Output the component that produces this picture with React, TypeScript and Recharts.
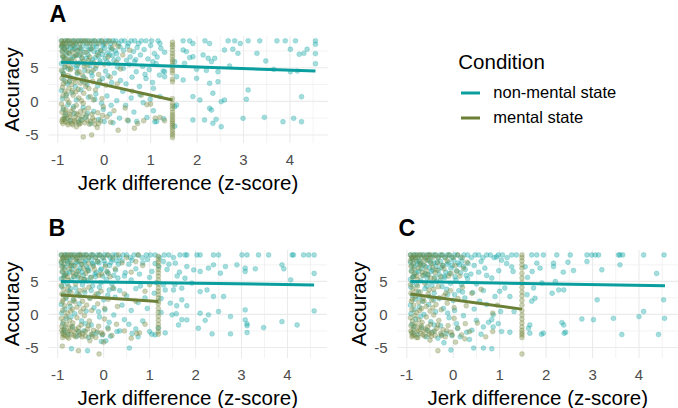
import React from 'react';
import { ScatterChart, Scatter, XAxis, YAxis, CartesianGrid } from 'recharts';

type Pt = [number, number];

const NON_COLOR = '#0b9e9e';
const MEN_COLOR = '#6b8036';
const NON_DOT = '#12a5a5';
const MEN_DOT = '#77893e';
const FONT = '"Liberation Sans", Arial, Helvetica, sans-serif';

const xMajor = [-1, 0, 1, 2, 3, 4];
const xMinor = [-0.5, 0.5, 1.5, 2.5, 3.5, 4.5];
const yMajor = [-5, 0, 5];
const yMinor = [-2.5, 2.5, 7.5];

// Panel A
const aNon: Pt[] = [
  [-0.92, 9], [-0.87, 8.6], [-0.83, 9], [-0.78, 9], [-0.74, 8.6], [-0.69, 9], [-0.63, 9], [-0.6, 8.6], [-0.55, 9], [-0.5, 9],
  [-0.46, 8.6], [-0.41, 9], [-0.36, 9], [-0.31, 8.6], [-0.26, 9], [-0.21, 9], [-0.16, 8.6], [-0.11, 9], [-0.06, 9], [-0.01, 8.6],
  [0.04, 9], [0.09, 9], [0.14, 8.6], [0.19, 9], [0.25, 9], [0.31, 8.6], [0.37, 9], [0.44, 9], [0.52, 8.6], [0.58, 9],
  [0.66, 9], [0.74, 8.6], [0.8, 9], [0.9, 9], [1.02, 9], [1.16, 9], [1.2, 8.6],
  [1.7, 9], [1.84, 9], [1.91, 8.6], [2.17, 9], [2.27, 8.6], [2.67, 9], [2.81, 9], [2.93, 8.6], [3.1, 9], [3.35, 9],
  [3.72, 9], [3.9, 9], [4.12, 9], [4.55, 9],
  [-0.91, 8.1], [-0.9, 7.4], [-0.89, 6.6], [-0.86, 7.9], [-0.82, 6.9], [-0.79, 8.2], [-0.76, 7.2], [-0.72, 6.3], [-0.68, 7.7], [-0.65, 8.3],
  [-0.61, 6.8], [-0.57, 7.5], [-0.53, 8.0], [-0.48, 6.5], [-0.44, 7.3], [-0.39, 8.2], [-0.35, 6.9], [-0.3, 7.8], [-0.25, 6.2], [-0.22, 7.4],
  [-0.17, 8.1], [-0.12, 6.7], [-0.07, 7.6], [-0.03, 8.3], [0.02, 6.4], [0.07, 7.2], [0.13, 8.0], [0.18, 6.8], [0.24, 7.5], [0.3, 6.3], [0.34, 8.1],
  [-0.9, 8.3], [-0.86, 6.2], [-0.81, 7.6], [-0.77, 5.9], [-0.72, 8.0], [-0.67, 6.6], [-0.63, 7.9], [-0.58, 5.3], [-0.54, 6.9], [-0.49, 7.8],
  [-0.43, 5.6], [-0.38, 6.4], [-0.33, 7.6], [-0.28, 5.8], [-0.24, 8.1], [-0.19, 6.5], [-0.14, 7.3], [-0.09, 6.0], [-0.04, 7.0], [0.01, 7.9],
  [0.06, 5.9], [0.11, 6.9], [0.16, 7.7], [0.21, 6.1], [0.27, 7.1],
  [0.42, 7.6], [0.5, 8.2], [0.56, 6.6], [0.63, 7.4], [0.71, 8.0], [0.78, 6.9], [0.86, 7.7], [0.94, 6.3], [1.0, 8.3], [1.08, 7.1],
  [1.14, 6.6], [1.22, 7.9], [1.3, 7.3], [0.48, 6.1], [0.68, 6.2], [1.05, 5.9],
  [-0.92, 5.6], [-0.9, 4.4], [-0.87, 3.2], [-0.85, 5.1], [-0.8, 2.6], [-0.77, 4.8], [-0.73, 3.6], [-0.67, 5.5], [-0.62, 2.2], [-0.58, 4.1],
  [-0.51, 5.8], [-0.47, 3.0], [-0.42, 4.6], [-0.37, 2.5], [-0.31, 5.3], [-0.26, 3.8], [-0.19, 4.9], [-0.14, 2.3], [-0.09, 5.7], [-0.04, 3.4],
  [0.03, 4.5], [0.1, 5.6], [0.16, 2.8], [0.22, 4.2], [0.29, 5.1], [0.35, 3.1],
  [-0.88, 4.0], [-0.75, 2.9], [-0.6, 4.9], [-0.44, 3.6], [-0.28, 4.3], [-0.1, 2.9], [0.08, 3.8],
  [0.41, 4.9], [0.47, 2.6], [0.54, 5.5], [0.6, 3.6], [0.69, 4.4], [0.76, 2.2], [0.83, 5.2], [0.9, 3.4], [0.97, 4.7], [1.04, 2.8],
  [1.12, 5.6], [1.19, 3.9], [1.27, 4.5], [0.65, 5.9], [0.88, 4.0],
  [-0.92, 1.6], [-0.9, 0.4], [-0.88, -1.2], [-0.85, -2.6], [-0.82, 0.9], [-0.78, -0.5], [-0.74, -2.9], [-0.7, 1.3], [-0.65, -1.8], [-0.6, 0.2],
  [-0.55, -3.1], [-0.5, 1.7], [-0.45, -0.9], [-0.4, -2.4], [-0.34, 0.6], [-0.29, -3.3], [-0.23, -1.5], [-0.18, 1.1], [-0.12, -2.7], [-0.06, -0.3],
  [0.0, -3.0], [0.06, 0.8], [0.12, -1.9], [0.19, -3.2], [0.27, 0.1], [0.33, -2.5],
  [-0.83, -2.0], [-0.66, -0.8], [-0.5, -2.7], [-0.36, -1.8], [-0.2, 0.3], [-0.02, -1.2], [0.15, -0.6],
  [0.4, 1.5], [0.46, -0.6], [0.52, -2.9], [0.58, 0.5], [0.64, -1.6], [0.7, -3.0], [0.77, 1.0], [0.84, -0.2], [0.92, -2.4], [0.99, 0.3],
  [1.06, -1.4], [1.13, -3.0], [1.2, 0.7], [1.28, -2.6], [1.09, -3.04], [1.06, 1.93],
  [1.7, 7.63], [1.77, 7.4], [1.91, 6.64], [1.84, 6.5], [1.73, 5.65], [2.13, 6.9], [2.24, 6.4], [2.31, 5.9], [2.38, 6.4], [1.99, 4.76],
  [1.99, 3.42], [1.7, 3.17], [2.27, 2.68], [2.45, 2.92], [2.34, 1.2], [1.91, 0.7], [2.06, 0.2], [2.52, -0.05], [2.59, 0.2], [2.27, -1.04],
  [2.31, -1.3], [1.91, -2.78], [2.16, -2.78], [2.34, -3.27], [2.41, -2.68], [2.52, -3.78], [2.99, -2.53], [3.45, -2.38], [3.85, -3.04], [4.08, -2.53],
  [4.25, -3.04], [3.1, 1.68], [3.06, 0.3], [4.25, 0.68], [2.59, 7.63], [2.77, 7.74], [2.88, 7.14], [3.29, 7.14], [3.48, 6.0], [3.65, 4.76],
  [4.01, 7.74], [4.2, 7.0], [4.3, 7.14], [4.37, 7.74], [4.55, 8.5], [4.55, 7.1], [4.55, 5.6], [4.16, 4.5], [4.01, 4.4], [2.7, 5.25],
  [2.45, 4.4], [2.2, 4.6], [1.52, 5.9], [1.56, 3.66], [1.3, 4.4], [1.3, 3.66], [1.56, -0.55], [1.52, -0.8], [1.52, -3.7],
];

const aMen: Pt[] = [
  [-0.92, 9], [-0.89, 8.6], [-0.86, 9], [-0.82, 8.6], [-0.79, 9], [-0.75, 9], [-0.71, 8.6], [-0.66, 9], [-0.62, 8.6], [-0.57, 9],
  [-0.52, 8.6], [-0.47, 9], [-0.42, 9], [-0.37, 8.6], [-0.32, 9], [-0.27, 8.6], [-0.2, 9], [-0.13, 8.6], [-0.05, 9], [0.03, 8.6],
  [0.12, 9], [0.22, 8.6],
  [-0.92, 8.2], [-0.91, 7.5], [-0.9, 6.8], [-0.88, 5.9], [-0.86, 7.7], [-0.83, 6.3], [-0.81, 8.1], [-0.78, 5.4], [-0.75, 7.1], [-0.71, 6.0],
  [-0.68, 8.3], [-0.64, 6.7], [-0.6, 7.6], [-0.56, 5.6], [-0.52, 7.9], [-0.48, 6.4], [-0.43, 5.2], [-0.39, 7.3], [-0.34, 6.1], [-0.28, 7.8],
  [-0.22, 5.7], [-0.15, 6.9], [-0.08, 7.5], [0.0, 5.5], [0.08, 6.6], [0.17, 7.9], [0.26, 5.8],
  [-0.91, 8.5], [-0.87, 6.6], [-0.84, 5.1], [-0.8, 7.3], [-0.76, 6.2], [-0.72, 4.9], [-0.69, 7.4], [-0.63, 5.9], [-0.59, 6.9], [-0.54, 4.4],
  [-0.5, 7.1], [-0.45, 5.9], [-0.4, 3.3], [-0.36, 5.4], [-0.31, 6.6], [-0.24, 4.6], [-0.17, 5.3], [-0.1, 3.1],
  [-0.92, 4.6], [-0.91, 3.4], [-0.9, 2.1], [-0.89, 0.8], [-0.87, 4.1], [-0.85, 1.5], [-0.83, 2.9], [-0.8, 0.3], [-0.78, 3.8], [-0.76, 1.9],
  [-0.73, 4.7], [-0.7, 2.5], [-0.67, 0.9], [-0.64, 3.3], [-0.61, 1.4], [-0.58, 4.3], [-0.55, 0.5], [-0.51, 2.7], [-0.47, 3.9], [-0.44, 1.2],
  [-0.4, 2.2], [-0.35, 4.5], [-0.3, 0.7], [-0.25, 3.0], [-0.19, 1.7], [-0.12, 4.0], [-0.05, 0.4], [0.04, 2.4], [0.13, 3.6],
  [-0.88, 2.6], [-0.81, 1.1], [-0.74, 3.1], [-0.69, 1.6], [-0.62, 2.9], [-0.56, 1.8], [-0.49, 0.1], [-0.41, 2.8], [-0.33, 1.9], [-0.23, 0.2],
  [-0.92, -0.4], [-0.91, -1.6], [-0.9, -2.7], [-0.89, -3.3], [-0.88, -0.9], [-0.86, -2.2], [-0.84, -3.0], [-0.82, -1.3], [-0.8, -2.5], [-0.78, -3.5],
  [-0.76, -0.2], [-0.74, -1.9], [-0.72, -2.9], [-0.7, -3.3], [-0.67, -1.1], [-0.65, -2.4], [-0.62, -3.1], [-0.6, -0.6], [-0.57, -2.0], [-0.54, -3.4],
  [-0.51, -1.5], [-0.48, -2.8], [-0.45, -0.3], [-0.42, -3.2], [-0.38, -2.1], [-0.34, -1.0], [-0.3, -3.0], [-0.25, -2.5], [-0.2, -3.4], [-0.14, -1.7],
  [-0.08, -2.9], [-0.02, -0.8], [0.06, -2.3], [0.14, -3.1], [0.21, -1.4],
  [-0.91, -3.0], [-0.87, -2.6], [-0.83, -1.7], [-0.79, -3.2], [-0.75, -2.3], [-0.71, -1.5], [-0.68, -3.5], [-0.64, -2.9], [-0.6, -1.8], [-0.56, -2.6],
  [-0.52, -3.3], [-0.47, -2.2], [-0.43, -1.4], [-0.37, -2.8], [-0.32, -3.4], [-0.26, -1.9], [-0.21, -2.8], [-0.12, -3.3], [-0.04, -2.1],
  [-0.45, -5.3], [-0.27, -5.0], [-0.6, -3.8], [-0.15, -3.9], [0.3, -4.3], [0.65, -4.0], [0.5, -2.8], [0.72, -3.3], [0.92, -0.5], [1.1, -2.5],
  [1.3, -2.9], [1.2, -2.4], [0.6, 1.5], [0.35, 4.8], [0.45, -1.0], [0.85, -2.9], [1.0, -0.4], [0.8, 0.9], [0.28, 2.6], [0.4, 6.9],
  [0.3, 8.2], [0.55, 7.6],
  [1.47, 8.8], [1.47, 8.4], [1.47, 8.1], [1.47, 7.6], [1.47, 7.1], [1.47, 6.7], [1.47, 6.2], [1.47, 5.9], [1.47, 5.4], [1.47, 5.0],
  [1.47, 4.6], [1.47, 4.2], [1.47, 3.3], [1.47, 2.9], [1.47, 0.4], [1.47, -0.3], [1.47, -0.7], [1.47, -1.1], [1.47, -1.6], [1.47, -2.0],
  [1.47, -2.3], [1.47, -2.7], [1.47, -3.0], [1.47, -3.3], [1.47, -3.6], [1.47, -3.9], [1.47, -4.3], [1.47, -4.7], [1.47, -5.0], [1.47, -5.4],
];

const aNonFit: Pt[] = [[-0.93, 5.8], [4.55, 4.5]];
const aMenFit: Pt[] = [[-0.93, 3.9], [1.47, 0.2]];

// Panel B
const bNon: Pt[] = [
  [-0.92, 9], [-0.88, 8.6], [-0.84, 9], [-0.8, 9], [-0.76, 8.6], [-0.71, 9], [-0.66, 9], [-0.62, 8.6], [-0.57, 9], [-0.52, 9],
  [-0.48, 8.6], [-0.43, 9], [-0.38, 9], [-0.33, 8.6], [-0.28, 9], [-0.23, 9], [-0.18, 8.6], [-0.13, 9], [-0.08, 9], [-0.03, 8.6],
  [0.02, 9], [0.08, 9], [0.14, 8.6], [0.2, 9], [0.27, 9], [0.34, 8.6], [0.42, 9], [0.5, 9], [0.58, 8.6], [0.66, 9],
  [0.75, 9], [0.84, 8.6], [0.93, 9], [1.02, 9], [1.12, 9], [1.22, 8.6], [1.32, 9], [1.42, 9], [1.52, 8.6],
  [1.66, 9], [1.77, 9], [1.81, 9], [2.03, 9], [2.1, 9], [2.39, 9], [2.5, 9], [3.01, 9], [3.12, 9], [3.37, 9],
  [3.59, 9], [4.1, 9], [4.13, 9], [4.35, 9], [4.46, 9], [4.58, 9],
  [-0.92, 7.8], [-0.9, 6.5], [-0.87, 8.2], [-0.84, 7.1], [-0.8, 6.2], [-0.77, 7.7], [-0.73, 8.3], [-0.69, 6.8], [-0.65, 7.4], [-0.6, 6.1],
  [-0.56, 8.0], [-0.51, 7.0], [-0.47, 6.4], [-0.42, 7.9], [-0.37, 7.2], [-0.32, 6.6], [-0.27, 8.2], [-0.22, 7.5], [-0.16, 6.3], [-0.1, 7.8],
  [-0.05, 6.9], [0.01, 8.1], [0.07, 6.5], [0.13, 7.4], [0.19, 8.3], [0.26, 6.7], [0.32, 7.6],
  [-0.89, 7.3], [-0.85, 5.9], [-0.79, 8.0], [-0.74, 6.4], [-0.7, 7.5], [-0.64, 5.7], [-0.59, 7.9], [-0.55, 6.6], [-0.49, 7.6], [-0.44, 5.9],
  [-0.39, 8.1], [-0.34, 6.9], [-0.29, 5.6], [-0.24, 7.7], [-0.19, 6.1], [-0.13, 8.0], [-0.07, 6.7], [-0.02, 5.8], [0.04, 7.6], [0.1, 6.2],
  [0.16, 7.9], [0.22, 5.9], [0.28, 8.1],
  [0.4, 8.1], [0.55, 7.6], [0.7, 6.9], [0.85, 7.8], [0.95, 8.3], [1.05, 6.5], [1.2, 7.2], [1.3, 8.0], [0.47, 6.3], [0.62, 8.2],
  [0.78, 6.1], [1.12, 7.7], [1.38, 6.8], [1.42, 7.6],
  [-0.92, 5.4], [-0.91, 4.2], [-0.88, 3.0], [-0.86, 5.8], [-0.82, 2.4], [-0.79, 4.6], [-0.75, 3.5], [-0.7, 5.2], [-0.66, 2.1], [-0.61, 4.0],
  [-0.56, 5.6], [-0.52, 2.8], [-0.46, 4.5], [-0.41, 3.3], [-0.36, 5.1], [-0.3, 2.5], [-0.24, 4.3], [-0.18, 5.7], [-0.12, 3.1], [-0.06, 4.8],
  [0.0, 2.2], [0.06, 5.3], [0.12, 3.7], [0.18, 4.6], [0.25, 2.6], [0.31, 5.5],
  [-0.87, 4.9], [-0.72, 3.9], [-0.58, 3.2], [-0.43, 5.3], [-0.27, 3.6], [-0.09, 4.1], [0.09, 2.9], [0.22, 3.9],
  [0.45, 5.8], [0.6, 5.2], [0.8, 4.3], [1.0, 5.6], [1.15, 4.8], [0.35, 3.6], [0.5, 2.8], [0.7, 3.9], [0.9, 2.5], [1.1, 3.2],
  [1.3, 4.47], [1.34, 3.7], [1.25, 2.4],
  [-0.92, 1.5], [-0.91, 0.2], [-0.89, -1.4], [-0.87, -2.7], [-0.84, 0.8], [-0.81, -0.6], [-0.77, -3.0], [-0.73, 1.2], [-0.68, -1.9], [-0.63, 0.1],
  [-0.58, -3.3], [-0.53, 1.6], [-0.48, -1.0], [-0.43, -2.5], [-0.38, 0.5], [-0.33, -3.5], [-0.27, -1.6], [-0.21, 1.0], [-0.15, -2.8], [-0.09, -0.4],
  [-0.03, -3.1], [0.03, 0.7], [0.09, -2.0], [0.15, -3.3], [0.22, -0.1], [0.29, -2.6], [0.05, -4.0], [-0.05, -4.1],
  [-0.86, -2.2], [-0.71, -0.4], [-0.55, -2.6], [-0.4, -1.4], [-0.24, -3.0], [-0.11, 0.4], [0.12, -1.2],
  [0.4, 1.4], [0.6, 0.6], [0.75, 1.8], [0.95, 0.9], [1.25, 0.3], [0.45, -0.8], [0.55, -1.5], [0.7, -2.2], [0.85, -1.0], [1.0, -2.6],
  [1.05, -3.0], [0.35, -2.5], [0.62, -2.9], [0.75, -3.4], [1.19, -2.1], [1.34, -2.8], [1.12, -3.1], [1.45, 1.7],
  [-0.7, -5.2], [-0.35, -5.5], [0.56, -5.1],
  [1.56, 7.76], [1.81, 7.24], [1.96, 6.74], [2.1, 6.5], [2.28, 7.0], [2.39, 7.5], [2.54, 6.24], [2.65, 7.24], [2.9, 7.5], [3.08, 7.0],
  [3.3, 6.9], [3.08, 6.5], [3.88, 7.5], [3.92, 6.9], [4.58, 6.2], [4.07, 5.23], [4.58, 0.53], [1.77, 5.48], [1.92, 4.73], [2.1, 3.45],
  [2.25, 3.7], [2.39, 2.7], [2.61, 2.7], [1.7, 2.2], [1.59, 1.3], [1.81, 1.3], [1.52, 3.7], [1.7, 3.97], [1.49, -0.07], [1.81, -0.83],
  [2.1, 0.18], [2.28, -0.07], [2.5, 0.43], [2.76, -0.33], [3.08, 0.68], [3.08, -0.83], [3.12, -1.44], [3.12, -1.7], [3.48, -2.0], [3.88, -1.1],
  [4.21, -1.6], [2.06, -2.1], [2.21, -0.9], [2.36, -2.95], [2.76, -2.95], [3.12, -2.75], [1.63, -1.6], [1.7, -0.8], [1.6, 5.8], [1.65, 6.4],
  [1.55, 4.5], [1.58, 0.1],
];

const bMen: Pt[] = [
  [-0.92, 9], [-0.88, 8.6], [-0.85, 9], [-0.81, 8.6], [-0.77, 9], [-0.72, 9], [-0.68, 8.6], [-0.63, 9], [-0.58, 8.6], [-0.53, 9],
  [-0.49, 9], [-0.44, 8.6], [-0.38, 9], [-0.32, 8.6], [-0.25, 9], [-0.17, 8.6], [-0.09, 9], [0.0, 8.6], [0.1, 9], [0.2, 8.6],
  [0.32, 9], [0.5, 8.6], [0.75, 9],
  [-0.92, 8.0], [-0.91, 7.2], [-0.9, 6.4], [-0.88, 5.5], [-0.86, 7.6], [-0.83, 6.0], [-0.8, 8.2], [-0.77, 5.2], [-0.74, 6.9], [-0.7, 7.8],
  [-0.66, 5.8], [-0.62, 7.3], [-0.58, 6.5], [-0.53, 8.1], [-0.49, 5.4], [-0.44, 7.0], [-0.39, 6.2], [-0.33, 7.7], [-0.27, 5.6], [-0.2, 6.8],
  [-0.13, 8.0], [-0.05, 6.1], [0.04, 7.3], [0.14, 5.7], [0.25, 6.9], [0.4, 7.8], [0.6, 6.4], [0.7, 8.0], [0.85, 7.4],
  [-0.9, 8.4], [-0.85, 6.8], [-0.79, 5.7], [-0.73, 7.4], [-0.67, 6.3], [-0.6, 8.3], [-0.55, 5.9], [-0.47, 7.6], [-0.41, 5.3], [-0.35, 6.6],
  [-0.23, 7.3], [-0.1, 5.9], [0.08, 6.4],
  [-0.92, 4.4], [-0.91, 3.1], [-0.9, 1.9], [-0.89, 0.6], [-0.87, 3.8], [-0.85, 1.3], [-0.82, 2.6], [-0.79, 0.2], [-0.77, 4.2], [-0.74, 1.7],
  [-0.71, 3.3], [-0.68, 0.8], [-0.65, 2.3], [-0.61, 4.6], [-0.58, 1.1], [-0.54, 3.0], [-0.5, 0.4], [-0.46, 2.0], [-0.42, 3.7], [-0.37, 1.4],
  [-0.32, 4.1], [-0.26, 0.6], [-0.2, 2.7], [-0.13, 1.6], [-0.06, 3.5], [0.02, 0.9], [0.1, 2.3], [0.2, 4.0], [0.3, 1.2], [0.45, 3.1],
  [0.7, 2.0], [0.9, 3.5], [1.0, 4.5],
  [-0.88, 2.2], [-0.8, 3.4], [-0.72, 0.5], [-0.63, 1.9], [-0.52, 3.6], [-0.44, 0.9], [-0.3, 2.4], [-0.16, 3.1],
  [-0.92, -0.6], [-0.91, -1.8], [-0.9, -2.9], [-0.89, -3.5], [-0.88, -1.1], [-0.86, -2.4], [-0.84, -3.2], [-0.82, -0.3], [-0.8, -1.5], [-0.78, -2.7],
  [-0.76, -3.6], [-0.74, -0.9], [-0.72, -2.1], [-0.7, -3.0], [-0.67, -1.3], [-0.64, -2.6], [-0.61, -3.4], [-0.58, -0.5], [-0.55, -2.0], [-0.52, -3.1],
  [-0.49, -1.6], [-0.46, -2.9], [-0.42, -0.2], [-0.39, -3.3], [-0.35, -2.2], [-0.31, -1.0], [-0.27, -3.0], [-0.22, -2.4], [-0.17, -3.5], [-0.11, -1.8],
  [-0.05, -2.8], [0.02, -0.7], [0.1, -2.2], [0.18, -3.2], [0.28, -1.5], [0.45, -2.5], [0.6, -3.6], [0.72, -2.9], [0.78, -2.8], [0.9, -1.5],
  [-0.91, -2.4], [-0.87, -3.1], [-0.83, -1.9], [-0.79, -3.4], [-0.75, -2.5], [-0.69, -1.8], [-0.65, -3.2], [-0.6, -2.3], [-0.53, -2.7], [-0.47, -3.4],
  [-0.4, -2.6], [-0.33, -1.7], [-0.25, -3.3], [-0.14, -2.6], [-0.02, -3.0],
  [-0.9, -4.8], [-0.55, -5.5], [-0.1, -6.0], [-0.3, -4.0], [0.0, -4.2],
  [1.19, 8.8], [1.19, 8.3], [1.19, 7.9], [1.19, 7.4], [1.19, 6.8], [1.19, 6.3], [1.19, 5.8], [1.19, 5.2], [1.19, 4.6], [1.19, 4.0],
  [1.19, 3.5], [1.19, 3.0], [1.19, 2.5], [1.19, 2.0], [1.19, 1.6], [1.19, 0.9], [1.19, 0.3], [1.19, -0.3], [1.19, -0.9], [1.19, -1.5],
  [1.19, -2.0], [1.19, -2.6], [1.19, -3.0],
];

const bNonFit: Pt[] = [[-0.93, 4.97], [4.58, 4.47]];
const bMenFit: Pt[] = [[-0.93, 2.95], [1.19, 1.95]];

// Panel C
const cNon: Pt[] = [
  [-0.92, 9], [-0.88, 8.6], [-0.84, 9], [-0.8, 9], [-0.76, 8.6], [-0.71, 9], [-0.66, 9], [-0.62, 8.6], [-0.57, 9], [-0.52, 9],
  [-0.48, 8.6], [-0.43, 9], [-0.38, 9], [-0.33, 8.6], [-0.28, 9], [-0.23, 9], [-0.18, 8.6], [-0.13, 9], [-0.08, 9], [-0.03, 8.6],
  [0.03, 9], [0.09, 9], [0.16, 8.6], [0.23, 9], [0.31, 9], [0.39, 8.6], [0.47, 9], [0.55, 9], [0.64, 8.6], [0.72, 9],
  [0.8, 9], [0.88, 8.6], [0.97, 9], [1.06, 9], [1.16, 8.6], [1.26, 9], [1.36, 9],
  [1.69, 9], [1.8, 9], [1.94, 9], [2.23, 9], [2.52, 9], [2.88, 9], [2.98, 9], [3.06, 9], [3.13, 9], [3.56, 9],
  [3.59, 9], [3.65, 9], [4.1, 9], [4.54, 9],
  [-0.92, 7.9], [-0.9, 6.6], [-0.87, 8.3], [-0.84, 7.2], [-0.8, 6.3], [-0.77, 7.6], [-0.73, 8.1], [-0.69, 6.9], [-0.65, 7.5], [-0.6, 6.2],
  [-0.56, 8.2], [-0.51, 7.1], [-0.47, 6.5], [-0.42, 7.8], [-0.37, 7.3], [-0.32, 6.7], [-0.27, 8.0], [-0.22, 7.4], [-0.16, 6.4], [-0.1, 7.9],
  [-0.05, 7.0], [0.01, 8.2], [0.07, 6.6], [0.13, 7.5], [0.19, 8.1], [0.26, 6.8], [0.32, 7.7],
  [-0.89, 7.4], [-0.85, 5.8], [-0.79, 8.0], [-0.75, 6.5], [-0.7, 7.7], [-0.64, 5.9], [-0.59, 7.2], [-0.54, 6.0], [-0.49, 7.9], [-0.44, 6.7],
  [-0.4, 5.6], [-0.35, 7.9], [-0.3, 6.0], [-0.25, 7.1], [-0.19, 5.8], [-0.13, 7.6], [-0.08, 6.2], [-0.02, 7.4], [0.04, 5.7], [0.1, 7.8],
  [0.16, 6.3], [0.22, 7.3], [0.28, 5.9],
  [0.93, 8.7], [1.04, 8.2], [1.15, 7.7], [1.26, 7.2], [1.29, 6.5], [0.83, 5.5], [0.72, 5.9], [0.45, 7.4], [0.6, 8.0], [0.55, 6.4],
  [0.38, 6.1], [0.68, 7.0], [0.98, 6.6],
  [-0.92, 5.3], [-0.91, 4.1], [-0.88, 2.9], [-0.86, 5.7], [-0.82, 2.3], [-0.79, 4.5], [-0.75, 3.4], [-0.7, 5.1], [-0.66, 2.0], [-0.61, 3.9],
  [-0.56, 5.5], [-0.52, 2.7], [-0.46, 4.4], [-0.41, 3.2], [-0.36, 5.0], [-0.3, 2.4], [-0.24, 4.2], [-0.18, 5.6], [-0.12, 3.0], [-0.06, 4.7],
  [0.0, 2.1], [0.06, 5.2], [0.12, 3.6], [0.18, 4.5], [0.25, 2.5], [0.31, 5.4],
  [-0.88, 4.8], [-0.73, 2.6], [-0.57, 4.3], [-0.42, 2.2], [-0.27, 5.2], [-0.14, 3.8], [0.03, 3.0], [0.2, 3.4],
  [1.11, 4.0], [1.22, 2.7], [0.9, 2.7], [0.72, 1.5], [0.57, 2.0], [0.42, 3.3], [0.5, 4.6], [0.65, 3.6], [1.0, 3.5],
  [-0.92, 1.4], [-0.91, 0.1], [-0.89, -1.5], [-0.87, -2.8], [-0.84, 0.7], [-0.81, -0.7], [-0.77, -3.1], [-0.73, 1.1], [-0.68, -2.0], [-0.63, 0.0],
  [-0.58, -3.4], [-0.53, 1.5], [-0.48, -1.1], [-0.43, -2.6], [-0.38, 0.4], [-0.33, -3.6], [-0.27, -1.7], [-0.21, 0.9], [-0.15, -2.9], [-0.09, -0.5],
  [-0.03, -3.2], [0.03, 0.6], [0.09, -2.1], [0.15, -3.4], [0.22, -0.2], [0.29, -2.7], [0.35, -3.8],
  [-0.85, -1.9], [-0.7, -0.3], [-0.56, -2.4], [-0.41, -1.6], [-0.25, -3.1], [-0.12, 0.2], [0.07, -1.4],
  [1.31, 0.43], [1.02, 0.43], [0.86, -0.07], [0.83, -0.8], [1.22, -2.7], [1.04, -2.6], [0.97, -1.4], [0.86, -1.9], [0.76, -1.2], [0.65, -1.9],
  [0.5, -0.9], [0.4, -2.4], [0.6, -3.0], [0.45, 0.8],
  [0.65, -5.1], [-0.05, -5.4], [0.44, -5.1], [0.83, -5.2], [-0.2, -4.3],
  [1.8, 7.76], [1.87, 7.0], [2.16, 7.76], [2.16, 7.24], [2.47, 7.9], [2.88, 8.0], [2.59, 6.64], [2.37, 6.4], [3.2, 6.75], [3.59, 7.5],
  [4.38, 6.2], [2.2, 4.97], [2.38, 3.7], [2.13, 3.2], [2.27, 3.7], [1.91, 4.75], [1.73, 4.0], [1.76, 2.45], [1.59, 3.0], [1.69, 2.0],
  [3.1, 2.2], [4.53, 2.2], [4.1, 0.43], [4.0, -0.33], [4.55, -0.6], [3.45, -0.6], [3.02, -0.8], [2.77, -0.7], [2.34, -1.24], [2.38, -1.6],
  [1.94, -2.85], [1.9, -3.0], [2.39, -2.85], [2.42, -2.7], [3.63, -3.05], [4.42, -3.05], [1.65, -2.85], [1.65, -1.6], [1.62, -2.1], [1.6, 5.6],
  [1.7, 6.5], [1.55, 7.2],
];

const cMen: Pt[] = [
  [-0.92, 9], [-0.88, 8.6], [-0.85, 9], [-0.81, 8.6], [-0.77, 9], [-0.72, 9], [-0.68, 8.6], [-0.63, 9], [-0.58, 8.6], [-0.53, 9],
  [-0.49, 9], [-0.44, 8.6], [-0.38, 9], [-0.32, 8.6], [-0.25, 9], [-0.17, 8.6], [-0.09, 9], [0.0, 8.6], [0.1, 9], [0.2, 8.6],
  [-0.92, 8.1], [-0.91, 7.3], [-0.9, 6.5], [-0.88, 5.6], [-0.86, 7.7], [-0.83, 6.1], [-0.8, 8.3], [-0.77, 5.3], [-0.74, 7.0], [-0.7, 7.9],
  [-0.66, 5.9], [-0.62, 7.4], [-0.58, 6.6], [-0.53, 8.2], [-0.49, 5.5], [-0.44, 7.1], [-0.39, 6.3], [-0.33, 7.8], [-0.27, 5.7], [-0.2, 6.9],
  [-0.13, 8.1], [-0.05, 6.2], [0.04, 7.4], [0.14, 5.8], [0.22, 7.0], [0.3, 7.9],
  [-0.9, 8.5], [-0.84, 6.9], [-0.78, 5.8], [-0.72, 7.5], [-0.67, 6.4], [-0.6, 8.2], [-0.55, 6.0], [-0.47, 7.7], [-0.41, 5.4], [-0.35, 6.7],
  [-0.23, 7.4], [-0.1, 5.8], [0.08, 6.5],
  [-0.92, 4.5], [-0.91, 3.2], [-0.9, 2.0], [-0.89, 0.7], [-0.87, 3.9], [-0.85, 1.4], [-0.82, 2.7], [-0.79, 0.3], [-0.77, 4.3], [-0.74, 1.8],
  [-0.71, 3.4], [-0.68, 0.9], [-0.65, 2.4], [-0.61, 4.7], [-0.58, 1.2], [-0.54, 3.1], [-0.5, 0.5], [-0.46, 2.1], [-0.42, 3.8], [-0.37, 1.5],
  [-0.32, 4.2], [-0.26, 0.7], [-0.2, 2.8], [-0.13, 1.7], [-0.06, 3.6], [0.02, 1.0], [0.1, 2.4], [0.2, 4.1], [0.28, 1.3], [0.4, 3.2],
  [0.6, 3.8], [0.85, 0.2], [0.95, 1.4],
  [-0.88, 2.3], [-0.8, 3.5], [-0.72, 0.6], [-0.63, 2.0], [-0.52, 3.7], [-0.44, 1.0], [-0.3, 2.5], [-0.16, 3.2],
  [-0.92, -0.5], [-0.91, -1.7], [-0.9, -2.8], [-0.89, -3.4], [-0.88, -1.0], [-0.86, -2.3], [-0.84, -3.1], [-0.82, -0.2], [-0.8, -1.4], [-0.78, -2.6],
  [-0.76, -3.5], [-0.74, -0.8], [-0.72, -2.0], [-0.7, -2.9], [-0.67, -1.2], [-0.64, -2.5], [-0.61, -3.3], [-0.58, -0.4], [-0.55, -1.9], [-0.52, -3.0],
  [-0.49, -1.5], [-0.46, -2.8], [-0.42, -0.1], [-0.39, -3.2], [-0.35, -2.1], [-0.31, -0.9], [-0.27, -2.9], [-0.22, -2.3], [-0.17, -3.4], [-0.11, -1.7],
  [-0.05, -2.7], [0.02, -0.6], [0.1, -2.1], [0.18, -3.1], [0.26, -1.4], [0.35, -2.6], [0.52, -1.3], [0.7, -3.4], [0.85, -2.6],
  [-0.91, -2.5], [-0.87, -3.2], [-0.83, -1.8], [-0.79, -3.5], [-0.75, -2.4], [-0.69, -1.7], [-0.65, -3.1], [-0.6, -2.2], [-0.53, -2.6], [-0.47, -3.3],
  [-0.4, -2.5], [-0.33, -1.6], [-0.25, -3.2], [-0.14, -2.5], [-0.02, -3.1],
  [-0.33, -5.5], [0.05, -4.2], [-0.5, -3.9], [0.25, -3.7],
  [1.48, 9.0], [1.48, 8.6], [1.48, 8.1], [1.48, 7.5], [1.48, 7.0], [1.48, 6.2], [1.48, 5.5], [1.48, 4.8], [1.48, 4.1], [1.48, 3.4],
  [1.48, 2.8], [1.48, 2.1], [1.48, 1.4], [1.48, 0.6], [1.48, -0.1], [1.48, -0.7], [1.48, -1.3], [1.48, -1.9], [1.48, -2.4], [1.48, -2.8],
  [1.48, -3.1], [1.48, -3.5], [1.48, -6.0],
];

const cNonFit: Pt[] = [[-0.92, 4.97], [4.56, 4.32]];
const cMenFit: Pt[] = [[-0.92, 3.1], [1.48, 0.8]];

const toRows = (pts: Pt[]) => pts.map(([x, y]) => ({ x, y }));

const makeDot = (color: string) => (props: any) => (
  <circle
    cx={props.cx}
    cy={props.cy}
    r={2.45}
    fill={color}
    fillOpacity={0.38}
    stroke={color}
    strokeOpacity={0.4}
    strokeWidth={0.6}
  />
);

const noDot = () => <g />;

const tickStyle = { fontSize: 15, fill: '#4d4d4d', fontFamily: FONT };

interface PanelProps {
  non: Pt[];
  men: Pt[];
  nonFit: Pt[];
  menFit: Pt[];
  xDomain: [number, number];
  yDomain: [number, number];
  width: number;
  height: number;
  right: number;
}

const Panel: React.FC<PanelProps> = ({ non, men, nonFit, menFit, xDomain, yDomain, width, height, right }) => (
  <ScatterChart width={width} height={height} margin={{ top: 36, right, left: 0, bottom: 0 }}>
    <CartesianGrid verticalValues={xMinor} horizontalValues={yMinor} stroke="#ebebeb" strokeWidth={0.6} />
    <CartesianGrid verticalValues={xMajor} horizontalValues={yMajor} stroke="#ebebeb" strokeWidth={1.1} />
    <XAxis
      type="number"
      dataKey="x"
      domain={xDomain}
      allowDataOverflow
      ticks={xMajor}
      interval={0}
      axisLine={false}
      tickLine={false}
      tickSize={0}
      tickMargin={11}
      height={32}
      tick={tickStyle}
    />
    <YAxis
      type="number"
      dataKey="y"
      domain={yDomain}
      allowDataOverflow
      ticks={yMajor}
      interval={0}
      axisLine={false}
      tickLine={false}
      tickSize={0}
      tickMargin={10}
      width={48.5}
      tick={tickStyle}
    />
    <Scatter data={toRows(non)} shape={makeDot(NON_DOT)} isAnimationActive={false} />
    <Scatter data={toRows(men)} shape={makeDot(MEN_DOT)} isAnimationActive={false} />
    <Scatter data={toRows(nonFit)} fill={NON_COLOR} line={{ stroke: NON_COLOR, strokeWidth: 3 }} shape={noDot} isAnimationActive={false} />
    <Scatter data={toRows(menFit)} fill={MEN_COLOR} line={{ stroke: MEN_COLOR, strokeWidth: 3 }} shape={noDot} isAnimationActive={false} />
  </ScatterChart>
);

export default function App() {
  return (
    <div style={{ position: 'absolute', left: 0, top: 0, width: 678, height: 408, background: '#fff', fontFamily: FONT, overflow: 'hidden' }}>
      <div style={{ position: 'absolute', left: 0, top: 0 }}>
        <Panel non={aNon} men={aMen} nonFit={aNonFit} menFit={aMenFit}
          xDomain={[-1.2, 4.82]} yDomain={[-6.2, 9.72]} width={330} height={175} right={2} />
      </div>
      <div style={{ position: 'absolute', left: 0, top: 214 }}>
        <Panel non={bNon} men={bMen} nonFit={bNonFit} menFit={bMenFit}
          xDomain={[-1.2, 4.86]} yDomain={[-6.6, 9.75]} width={329} height={176} right={2} />
      </div>
      <div style={{ position: 'absolute', left: 349, top: 214 }}>
        <Panel non={cNon} men={cMen} nonFit={cNonFit} menFit={cMenFit}
          xDomain={[-1.2, 4.84]} yDomain={[-6.6, 9.75]} width={329} height={176} right={0} />
      </div>
      <svg width={678} height={408} style={{ position: 'absolute', left: 0, top: 0, pointerEvents: 'none' }} fontFamily={FONT}>
        <text x={49.5} y={21.7} fontSize={23.3} fontWeight="bold" fill="#000">A</text>
        <text x={48.5} y={235.5} fontSize={23.3} fontWeight="bold" fill="#000">B</text>
        <text x={398.5} y={235.5} fontSize={23.3} fontWeight="bold" fill="#000">C</text>

        <text x={188} y={190.3} fontSize={20.5} textAnchor="middle" fill="#000">Jerk difference (z-score)</text>
        <text x={187.75} y={405} fontSize={20.5} textAnchor="middle" fill="#000">Jerk difference (z-score)</text>
        <text x={537.75} y={405} fontSize={20.5} textAnchor="middle" fill="#000">Jerk difference (z-score)</text>

        <text transform="translate(19,89.5) rotate(-90)" fontSize={20.5} textAnchor="middle" fill="#000">Accuracy</text>
        <text transform="translate(19,304) rotate(-90)" fontSize={20.5} textAnchor="middle" fill="#000">Accuracy</text>
        <text transform="translate(366,304) rotate(-90)" fontSize={20.5} textAnchor="middle" fill="#000">Accuracy</text>

        <text x={458.3} y={69.3} fontSize={20.5} fill="#000">Condition</text>
        <line x1={461} x2={480} y1={93} y2={93} stroke={NON_COLOR} strokeWidth={3} />
        <line x1={461} x2={480} y1={118} y2={118} stroke={MEN_COLOR} strokeWidth={3} />
        <text x={493.3} y={98} fontSize={16.5} fill="#000">non-mental state</text>
        <text x={493.3} y={123} fontSize={16.5} fill="#000">mental state</text>
      </svg>
    </div>
  );
}
